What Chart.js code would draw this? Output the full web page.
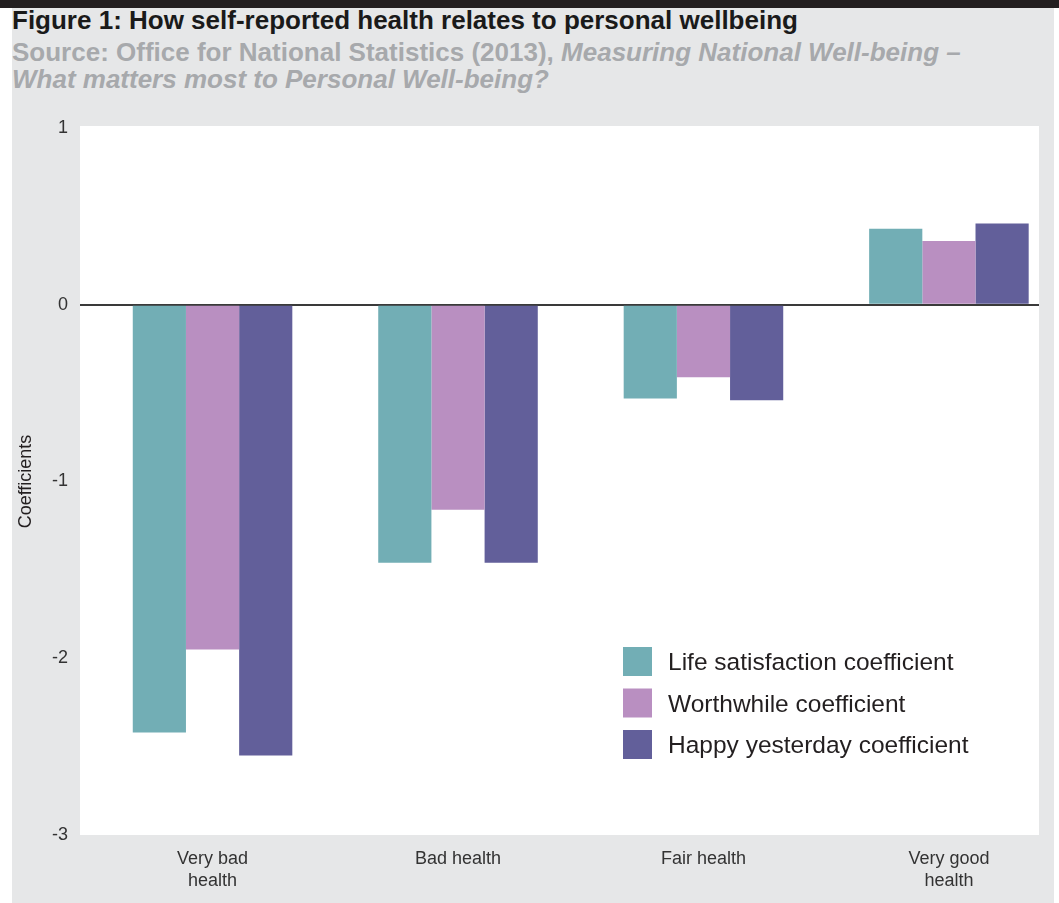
<!DOCTYPE html>
<html><head><meta charset="utf-8">
<script src="https://cdn.jsdelivr.net/npm/chart.js@4.4.0/dist/chart.umd.min.js"></script>
<style>
html,body{margin:0;padding:0;background:#fff;}
#wrap{position:relative;width:1059px;height:903px;overflow:hidden;font-family:"Liberation Sans",Arial,sans-serif;}
#topbar{position:absolute;left:0;top:0;width:1059px;height:8px;background:#231f20;}
#panel{position:absolute;left:12px;top:8px;width:1042px;height:895px;background:#e6e7e8;}
#title{position:absolute;left:12px;top:6px;font-weight:bold;font-size:26px;line-height:28px;color:#1a1a1a;white-space:nowrap;}
#source{position:absolute;left:12px;top:39px;font-weight:bold;font-size:26px;line-height:27px;color:#a7a9ac;white-space:nowrap;}
canvas{position:absolute;left:0;top:0;}
</style>
</head>
<body>
<div id="wrap">
  <div id="topbar"></div>
  <div id="panel"></div>
  <div id="title">Figure 1: How self-reported health relates to personal wellbeing</div>
  <div id="source">Source: Office for National Statistics (2013), <i>Measuring National Well-being –</i><br><i>What matters most to Personal Well-being?</i></div>
  <canvas id="c" width="1059" height="903"></canvas>
</div>
<script>
const categories = [["Very bad","health"], "Bad health", "Fair health", ["Very good","health"]];
const lifeSatisfaction = [-2.42, -1.46, -0.53, 0.43];
const worthwhile = [-1.95, -1.16, -0.41, 0.36];
const happyYesterday = [-2.55, -1.46, -0.54, 0.46];
const seriesNames = ["Life satisfaction coefficient", "Worthwhile coefficient", "Happy yesterday coefficient"];
const yTicks = [1, 0, -1, -2, -3];

const colors = ["#72aeb5", "#b98fc1", "#625f9a"];
const FONT = '"Liberation Sans", Arial, sans-serif';

function toPoints(arr){ return arr.map((v,i)=>({x:i, y:v})); }

const bgPlugin = {
  id:'bg',
  beforeDraw(chart){
    const {ctx, chartArea:a} = chart;
    ctx.save();
    ctx.fillStyle = '#ffffff';
    ctx.fillRect(a.left, a.top - 2, a.right - a.left, a.bottom - a.top + 2);
    ctx.restore();
  }
};

const legendPlugin = {
  id:'customLegend',
  afterDraw(chart){
    const {ctx, chartArea:a} = chart;
    const x0 = a.left + 543, y0 = a.top + 519, box = 29, gap = 41.5;
    ctx.save();
    ctx.font = '24.5px ' + FONT;
    ctx.textBaseline = 'middle';
    ctx.textAlign = 'left';
    chart.data.datasets.forEach((ds, i) => {
      const y = y0 + i*gap;
      ctx.fillStyle = ds.backgroundColor;
      ctx.fillRect(x0, y, box, box);
      ctx.fillStyle = '#231f20';
      ctx.fillText(ds.label, x0 + 45, y + box/2 + 2);
    });
    ctx.restore();
  }
};

new Chart(document.getElementById('c'), {
  type:'bar',
  data:{
    datasets:[
      {label:seriesNames[0], data:toPoints(lifeSatisfaction), backgroundColor:colors[0]},
      {label:seriesNames[1], data:toPoints(worthwhile), backgroundColor:colors[1]},
      {label:seriesNames[2], data:toPoints(happyYesterday), backgroundColor:colors[2]}
    ]
  },
  options:{
    responsive:false,
    animation:false,
    devicePixelRatio:1,
    layout:{padding:{left:12, right:20, top:128, bottom:8}},
    datasets:{bar:{categoryPercentage:0.65, barPercentage:1.0, borderWidth:0}},
    plugins:{legend:{display:false}, tooltip:{enabled:false}, title:{display:false}},
    scales:{
      x:{
        type:'linear',
        offset:false,
        min:-0.54,
        max:3.367,
        afterBuildTicks(s){ s.ticks = categories.map((c,i)=>({value:i})); },
        afterFit(s){ s.height = 60; },
        grid:{display:false},
        border:{display:false},
        ticks:{
          autoSkip:false, maxRotation:0, minRotation:0, padding:5,
          color:'#333333',
          font:{family:FONT, size:18, lineHeight:1.22},
          callback:(v)=>categories[v]
        }
      },
      y:{
        min:-3, max:1,
        afterBuildTicks(s){ s.ticks = yTicks.map(v=>({value:v})); },
        afterFit(s){ s.width = 68; },
        grid:{
          display:true, drawTicks:false,
          color:(c)=> (c.tick && c.tick.value===0) ? '#3a3a3a' : 'rgba(0,0,0,0)',
          lineWidth:(c)=> (c.tick && c.tick.value===0) ? 2 : 0
        },
        border:{display:false},
        ticks:{padding:12, color:'#333333', font:{family:FONT, size:18}},
        title:{display:true, text:'Coefficients', color:'#231f20', font:{family:FONT, size:18}, padding:{top:3, bottom:4}}
      }
    }
  },
  plugins:[bgPlugin, legendPlugin]
});
</script>
</body></html>
